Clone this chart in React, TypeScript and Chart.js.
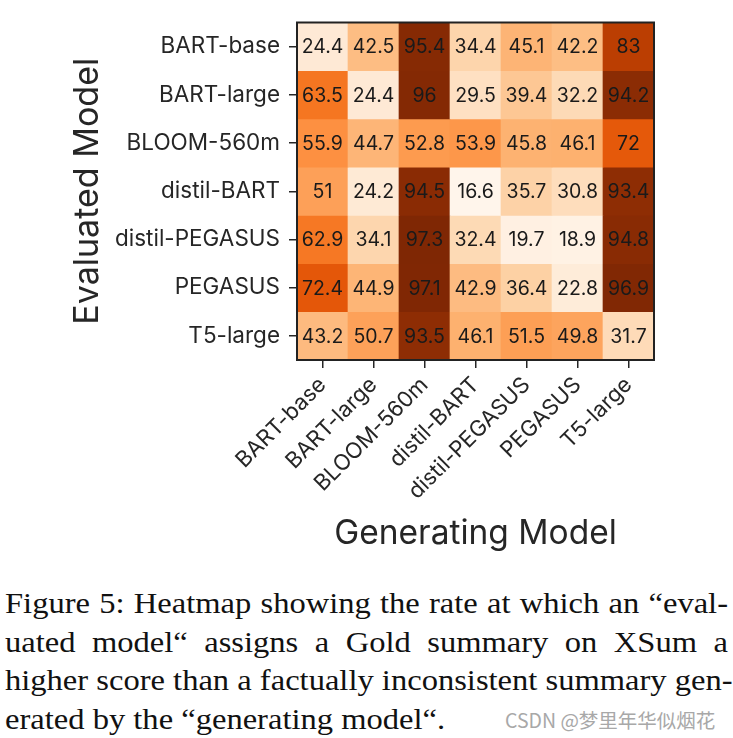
import React, { useEffect, useRef } from "react";
import { Chart, registerables } from "chart.js";

Chart.register(...registerables);

const generatingModels = ["BART-base", "BART-large", "BLOOM-560m", "distil-BART", "distil-PEGASUS", "PEGASUS", "T5-large"];
const evaluatedModels = ["BART-base", "BART-large", "BLOOM-560m", "distil-BART", "distil-PEGASUS", "PEGASUS", "T5-large"];

const rowBARTbase = [24.4, 42.5, 95.4, 34.4, 45.1, 42.2, 83];
const rowBARTlarge = [63.5, 24.4, 96, 29.5, 39.4, 32.2, 94.2];
const rowBLOOM560m = [55.9, 44.7, 52.8, 53.9, 45.8, 46.1, 72];
const rowDistilBART = [51, 24.2, 94.5, 16.6, 35.7, 30.8, 93.4];
const rowDistilPEGASUS = [62.9, 34.1, 97.3, 32.4, 19.7, 18.9, 94.8];
const rowPEGASUS = [72.4, 44.9, 97.1, 42.9, 36.4, 22.8, 96.9];
const rowT5large = [43.2, 50.7, 93.5, 46.1, 51.5, 49.8, 31.7];

const rates = [rowBARTbase, rowBARTlarge, rowBLOOM560m, rowDistilBART, rowDistilPEGASUS, rowPEGASUS, rowT5large];

const orangesStops = ["#fff5eb", "#fee6ce", "#fdd0a2", "#fdae6b", "#fd8d3c", "#f16913", "#d94801", "#a63603", "#7f2704"];

const captionLines = [
  "Figure 5: Heatmap showing the rate at which an \u201ceval-",
  "uated model\u201c assigns a Gold summary on XSum a",
  "higher score than a factually inconsistent summary gen-",
  "erated by the \u201cgenerating model\u201c.",
];
const watermark = "CSDN @梦里年华似烟花";

const allVals = rates.flat();
const vMin = Math.min(...allVals);
const vMax = Math.max(...allVals);

function hexToRgb(h: string) {
  return [parseInt(h.slice(1, 3), 16), parseInt(h.slice(3, 5), 16), parseInt(h.slice(5, 7), 16)];
}

function oranges(v: number) {
  const t = Math.max(0, Math.min(1, (v - vMin) / (vMax - vMin)));
  const pos = t * (orangesStops.length - 1);
  const i = Math.min(Math.floor(pos), orangesStops.length - 2);
  const f = pos - i;
  const a = hexToRgb(orangesStops[i]);
  const b = hexToRgb(orangesStops[i + 1]);
  const c = a.map((x, k) => Math.round(x + (b[k] - x) * f));
  return `rgb(${c[0]},${c[1]},${c[2]})`;
}

const FONT = "Inter, 'Noto Sans', sans-serif";
const INK = "#262626";

export default function App() {
  const ref = useRef<HTMLCanvasElement | null>(null);

  useEffect(() => {
    if (!ref.current) return;
    const annotate = {
      id: "annotate",
      afterDatasetsDraw(chart: any) {
        const ctx = chart.ctx;
        ctx.save();
        ctx.font = `19.5px ${FONT}`;
        ctx.fillStyle = "#1a1a1a";
        ctx.textAlign = "center";
        ctx.textBaseline = "middle";
        chart.data.datasets.forEach((_: any, i: number) => {
          const meta = chart.getDatasetMeta(i);
          meta.data.forEach((el: any, j: number) => {
            const p = el.getCenterPoint();
            ctx.fillText(String(rates[i][j]), p.x, p.y + 1);
          });
        });
        const a = chart.chartArea;
        ctx.strokeStyle = "#222";
        ctx.lineWidth = 2;
        ctx.strokeRect(a.left, a.top, a.right - a.left, a.bottom - a.top);
        ctx.restore();
      },
    };

    const chart = new Chart(ref.current, {
      type: "bar",
      data: {
        labels: generatingModels,
        datasets: evaluatedModels.map((name, i) => ({
          label: name,
          data: generatingModels.map(() => 1),
          backgroundColor: rates[i].map((v) => oranges(v)),
          borderWidth: 0,
          barPercentage: 1,
          categoryPercentage: 1,
        })),
      },
      options: {
        animation: false,
        responsive: true,
        maintainAspectRatio: false,
        layout: { padding: { top: 5, right: 79, left: 0, bottom: 0 } },
        plugins: { legend: { display: false }, tooltip: { enabled: false } },
        scales: {
          x: {
            type: "category",
            stacked: true,
            offset: true,
            border: { display: false },
            grid: { offset: false, drawOnChartArea: false, drawTicks: true, tickLength: 8, color: INK, lineWidth: 1.5 },
            ticks: { minRotation: 45, maxRotation: 45, padding: 4, color: INK, font: { family: FONT, size: 22 } },
            title: { display: true, text: "Generating Model", color: INK, font: { family: FONT, size: 33.5 }, padding: { top: 0, bottom: 21 } },
            afterFit(scale: any) {
              scale.height = 215;
            },
          },
          y: {
            type: "linear",
            stacked: true,
            reverse: true,
            min: 0,
            max: evaluatedModels.length,
            border: { display: false },
            grid: { drawOnChartArea: false, drawTicks: true, tickLength: 8, color: INK, lineWidth: 1.5 },
            afterBuildTicks(scale: any) {
              scale.ticks = evaluatedModels.map((_, i) => ({ value: i + 0.5 }));
            },
            ticks: {
              padding: 9,
              color: INK,
              font: { family: FONT, size: 22.5 },
              callback: (v: any) => evaluatedModels[Math.floor(Number(v))],
            },
            title: { display: true, text: "Evaluated Model", color: INK, font: { family: FONT, size: 34 }, padding: { top: 67, bottom: 0 } },
            afterFit(scale: any) {
              scale.width = 297;
            },
          },
        },
      },
      plugins: [annotate],
    });
    return () => chart.destroy();
  }, []);

  const capScale = 1.085;

  return (
    <div style={{ position: "absolute", left: 0, top: 0, width: 733, height: 738, background: "#fff", overflow: "hidden" }}>
      <div style={{ position: "absolute", left: 0, top: 0, width: 733, height: 575 }}>
        <canvas ref={ref} />
      </div>
      <div
        style={{
          position: "absolute",
          left: 5,
          top: 584,
          width: 723 / capScale,
          transform: `scaleX(${capScale})`,
          transformOrigin: "0 0",
          fontFamily: "'Liberation Serif', 'Times New Roman', serif",
          fontSize: 30,
          lineHeight: "38.5px",
          color: "#111",
        }}
      >
        {captionLines.map((line, i) => (
          <div
            key={i}
            style={{
              textAlign: i < captionLines.length - 1 ? "justify" : "left",
              textAlignLast: i < captionLines.length - 1 ? "justify" : "left",
              whiteSpace: "nowrap",
            }}
          >
            {line}
          </div>
        ))}
      </div>
      <div
        style={{
          position: "absolute",
          left: 505,
          top: 705,
          fontFamily: "'Noto Sans CJK SC', sans-serif",
          fontSize: 19.5,
          color: "#a8a8a8",
          whiteSpace: "nowrap",
        }}
      >
        {watermark}
      </div>
    </div>
  );
}
